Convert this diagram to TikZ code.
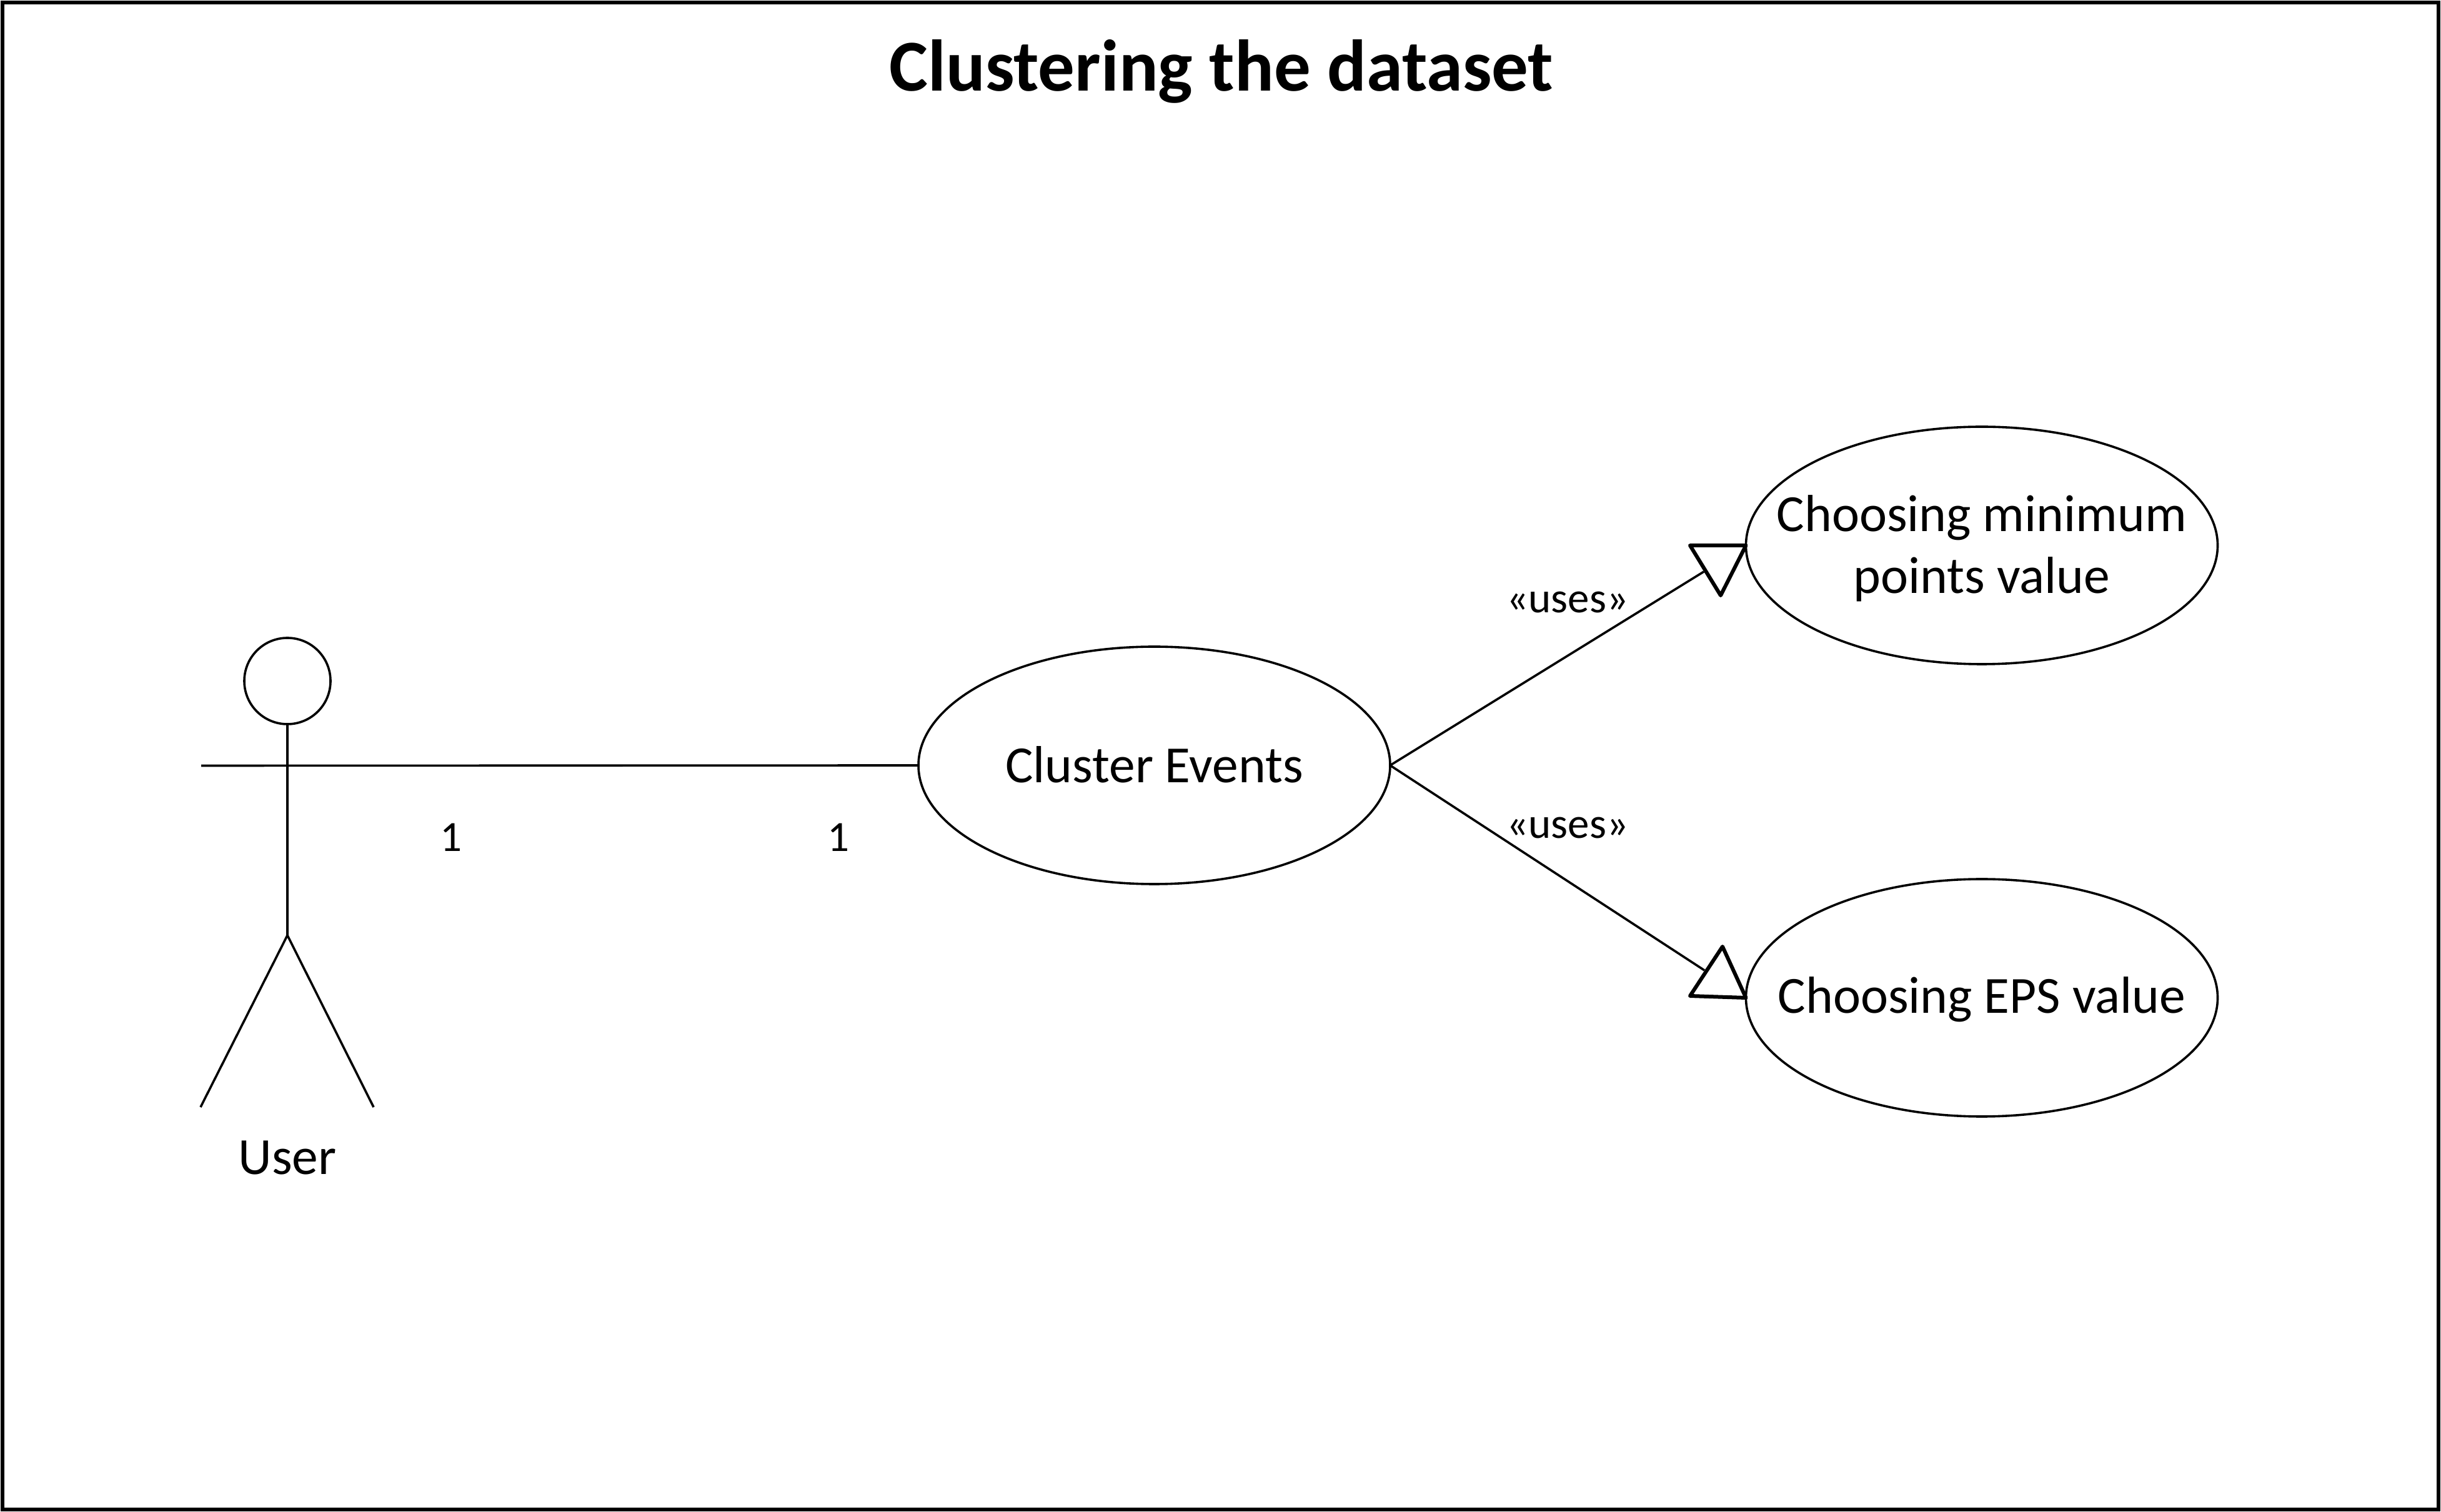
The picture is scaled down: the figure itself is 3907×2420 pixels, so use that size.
\documentclass[tikz,border=0pt]{standalone}
\usepackage{fontspec}
\usetikzlibrary{shapes.geometric}
\setmainfont{Carlito}
\begin{document}
\begin{tikzpicture}[x=0.2pt,y=-0.2pt,
  thinline/.style={draw=black,line width=0.72pt},
  usecase/.style={ellipse,thinline,minimum width=151pt,minimum height=76pt,inner xsep=-15pt,inner ysep=0pt,outer sep=0pt,align=center,font=\fontsize{16.7}{19.9}\selectfont},
  oneline/.style={text height=12pt,text depth=2pt},
  headtri/.style={draw=black,line width=1.2pt,line join=round,fill=white},
  smalllabel/.style={inner sep=0pt,font=\fontsize{13.8}{16}\selectfont},
  actorlabel/.style={inner sep=0pt,font=\fontsize{16.7}{20}\selectfont},
  titlelabel/.style={inner sep=0pt,font=\fontsize{23.4}{28}\selectfont\bfseries}]
\useasboundingbox (0,0) rectangle (3907,2420);
\draw[draw=black,line width=1.1pt] (4,4) rectangle (3903,2416);
\node[titlelabel] (title) at (1955,114) {Clustering the dataset};
% actor
\node[circle,thinline,minimum size=27.6pt,inner sep=0pt] (head) at (460,1090) {};
\coordinate (armL) at (322,1225.5);
\coordinate (hip) at (460,1497);
\coordinate (footL) at (321,1772);
\coordinate (footR) at (598,1772);
\draw[thinline] (head.south) -- (hip);
\draw[thinline] (hip) -- (footL);
\draw[thinline] (hip) -- (footR);
\node[actorlabel] (user) at (460,1853) {User};
% use cases
\node[usecase,text height=12pt,text depth=1pt] (ce) at (1847.5,1225) {Cluster Events};
\node[usecase] (minpts) at (3172,873) {\rule{0pt}{13.4pt}Choosing minimum\\[0pt]points value};
\node[usecase,oneline] (eps) at (3172,1597) {Choosing EPS value};
% association
\draw[thinline] (armL) -- (ce.west);
\node[smalllabel] (m1) at (722,1340) {1};
\node[smalllabel] (m2) at (1342,1340) {1};
% uses 1
\coordinate (t1a) at (2705,873);
\coordinate (t1c) at (2754,953);
\coordinate (t1m) at (2727,915);
\draw[thinline] (ce.east) -- (t1m);
\draw[headtri] (t1a) -- (minpts.west) -- (t1c) -- cycle;
\node[smalllabel] (u1) at (2509,964) {«uses»};
% uses 2
\coordinate (t2a) at (2705,1594);
\coordinate (t2c) at (2757,1515);
\coordinate (t2m) at (2728,1553);
\draw[thinline] (ce.east) -- (t2m);
\draw[headtri] (t2a) -- (eps.west) -- (t2c) -- cycle;
\node[smalllabel] (u2) at (2509,1325) {«uses»};
\end{tikzpicture}
\end{document}
